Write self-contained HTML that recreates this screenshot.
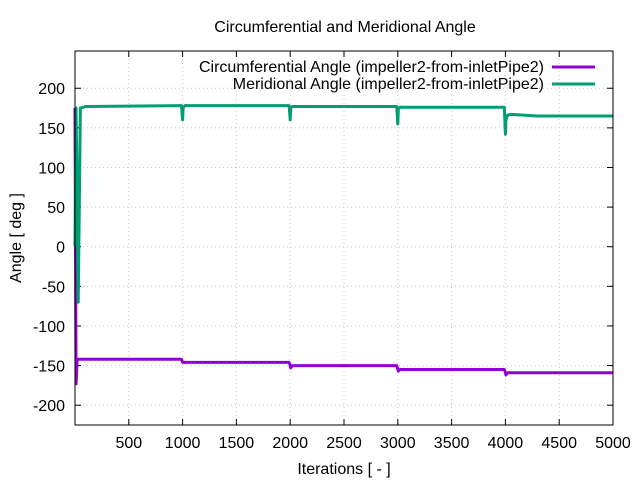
<!DOCTYPE html>
<html><head><meta charset="utf-8"><style>
html,body{margin:0;padding:0;background:#fff;}
svg{display:block;font-family:"Liberation Sans",sans-serif;}
</style></head><body>
<svg id="chart" width="640" height="480" viewBox="0 0 640 480">
<text x="345" y="32" text-anchor="middle" font-size="16">Circumferential and Meridional Angle</text>
<g id="grid"></g>
<g id="axes"></g>
<g id="series"></g>
<rect x="75" y="51" width="538" height="374" fill="none" stroke="#000" stroke-width="1"/>
<text x="344" y="474" text-anchor="middle" font-size="16">Iterations [ - ]</text>
<text transform="translate(21,238) rotate(-90)" text-anchor="middle" font-size="16">Angle [ deg ]</text>
<g>
<text x="544" y="72" text-anchor="end" font-size="16">Circumferential Angle (impeller2-from-inletPipe2)</text>
<line x1="552" y1="67" x2="595" y2="67" stroke="#9400d3" stroke-width="3"/>
<text x="544" y="89" text-anchor="end" font-size="16">Meridional Angle (impeller2-from-inletPipe2)</text>
<line x1="552" y1="84" x2="595" y2="84" stroke="#009e73" stroke-width="3"/>
</g>
</svg>
<script>
const xTicks = [500,1000,1500,2000,2500,3000,3500,4000,4500,5000];
const yTicks = [-200,-150,-100,-50,0,50,100,150,200];
const iterations = [0,10,20,30,50,100,990,1000,1005,1020,1990,2000,2005,2020,2990,3000,3005,3020,3990,4000,4005,4020,4050,4300,5000];
const meridional = [0,175,60,-70,175,177,178,160,175,178,178,160,175,177,177,155,174,176,176,142,160,166,167,165,165];
const circumferential = [175,-173,-142,-142,-142,-142,-142,-146,-146,-146,-146,-150,-153,-150,-150,-155,-157,-155,-155,-159,-162,-159,-159,-159,-159];
const NS='http://www.w3.org/2000/svg';
const X0=75,X1=613,Y0=51,Y1=425,XMIN=0,XMAX=5000,YMIN=-225,YMAX=247;
const xs=v=>X0+(v-XMIN)/(XMAX-XMIN)*(X1-X0);
const ys=v=>Y1-(v-YMIN)/(YMAX-YMIN)*(Y1-Y0);
function mk(t,a){const e=document.createElementNS(NS,t);for(const k in a)e.setAttribute(k,a[k]);return e;}
const grid=document.getElementById('grid'),axes=document.getElementById('axes'),series=document.getElementById('series');
xTicks.forEach(v=>{
 const x=xs(v);
 if(v<XMAX){const g=mk('line',{x1:x,x2:x,y1:Y0,y2:Y1,stroke:'#c8c8c8','stroke-dasharray':'1,3'});
 
 grid.appendChild(g);}
 const t1=mk('line',{x1:x,x2:x,y1:Y1,y2:Y1-6,stroke:'#000'});
 
 axes.appendChild(t1);
 const t2=mk('line',{x1:x,x2:x,y1:Y0,y2:Y0+6,stroke:'#000'});
 
 axes.appendChild(t2);
 const l=mk('text',{x:x,y:Y1+23,'text-anchor':'middle','font-size':16});l.textContent=v;
 
 axes.appendChild(l);
});
yTicks.forEach(v=>{
 const y=ys(v);
 const g=mk('line',{x1:X0,x2:X1,y1:y,y2:y,stroke:'#c8c8c8','stroke-dasharray':'1,3'});
 
 grid.appendChild(g);
 const t1=mk('line',{x1:X0,x2:X0+6,y1:y,y2:y,stroke:'#000'});
 
 axes.appendChild(t1);
 const t2=mk('line',{x1:X1,x2:X1-6,y1:y,y2:y,stroke:'#000'});
 
 axes.appendChild(t2);
 const l=mk('text',{x:X0-10,y:y+6,'text-anchor':'end','font-size':16});l.textContent=v;
 
 axes.appendChild(l);
});
function line(vals,color,name){
 const d=iterations.map((it,i)=>(i?'L':'M')+xs(it).toFixed(2)+','+ys(vals[i]).toFixed(2)).join(' ');
 const p=mk('path',{d:d,fill:'none',stroke:color,'stroke-width':3,'stroke-linejoin':'round'});
 
 
 series.appendChild(p);
}
line(circumferential,'#9400d3','circumferential-angle-line');
line(meridional,'#009e73','meridional-angle-line');
</script>
</body></html>
